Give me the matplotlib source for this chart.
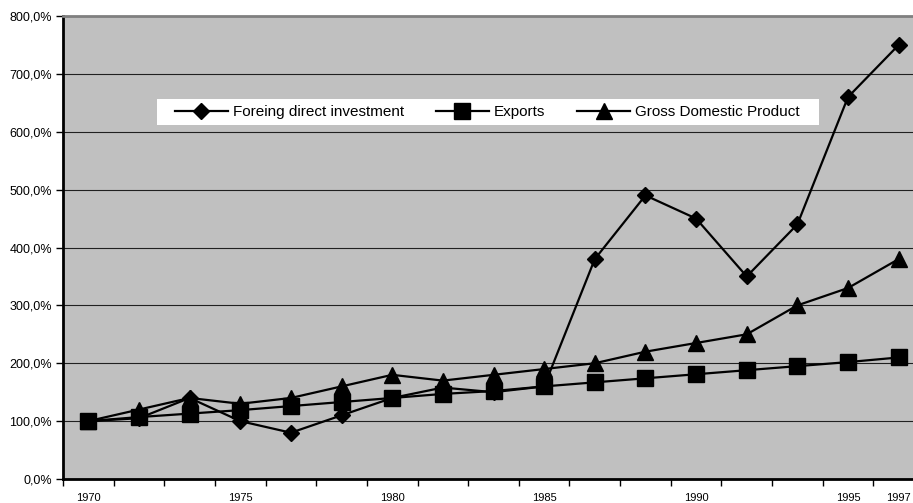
import matplotlib
matplotlib.use("Agg")
import matplotlib.pyplot as plt
from matplotlib.patches import Rectangle

# index values, 1970 = 100 %
years = ["1970", "", "", "1975", "", "", "1980", "", "", "1985", "", "",
         "1990", "", "", "1995", "1997"]
fdi = [100, 105, 140, 100, 80, 110, 140, 158, 150, 160, 380, 490, 450,
       350, 440, 660, 750]
exports = [100, 107, 113, 119, 126, 133, 140, 147, 152, 160, 167, 174, 181,
           188, 195, 202, 210]
gdp = [100, 120, 140, 130, 140, 160, 180, 170, 180, 190, 200, 220, 235,
       250, 300, 330, 380]
yticks = [0, 100, 200, 300, 400, 500, 600, 700, 800]

plt.rcParams["font.family"] = ["Liberation Sans", "DejaVu Sans"]

fig = plt.figure(figsize=(9.13, 5.03), dpi=100)
# plot area runs a little past the right edge of the figure
ax = fig.add_axes([63 / 913, 24 / 503, 861 / 913, 463 / 503])
ax.set_facecolor("#c0c0c0")

x = range(len(years))
line_kw = dict(color="black", lw=1.6, clip_on=False)
ax.plot(x, fdi, marker="D", ms=8, label="Foreing direct investment", **line_kw)
ax.plot(x, exports, marker="s", ms=11, label="Exports", **line_kw)
ax.plot(x, gdp, marker="^", ms=11, label="Gross Domestic Product", **line_kw)

ax.set_xlim(-0.5, len(years) - 0.5)
ax.set_ylim(0, 800)
ax.set_yticks(yticks)
ax.set_yticklabels([f"{v},0%" for v in yticks], fontsize=9)
ax.yaxis.grid(True, color="#202020", lw=0.8)
ax.set_axisbelow(True)

# category boundaries carry the ticks, labels sit at the centres
ax.set_xticks([i - 0.5 for i in range(len(years) + 1)])
ax.set_xticklabels([])
ax.set_xticks(list(x), minor=True)
ax.set_xticklabels(years, minor=True, fontsize=8)
ax.tick_params(axis="x", which="minor", length=0, pad=10)
ax.tick_params(axis="x", which="major", length=5, width=1)
ax.tick_params(axis="y", length=5, width=1, pad=3)

ax.spines["left"].set_linewidth(2)
ax.spines["bottom"].set_linewidth(2)
ax.spines["top"].set_color("#808080")
ax.spines["top"].set_linewidth(2)
ax.spines["right"].set_visible(False)

# white legend strip, drawn as its own box so the padding can differ per side
ax.add_patch(Rectangle((94 / 861, 354 / 463), 662 / 861, 26 / 463,
                       transform=ax.transAxes, facecolor="white",
                       edgecolor="none", zorder=4.9, clip_on=False))
leg = ax.legend(loc="center left", bbox_to_anchor=(112 / 861, 367 / 463),
                ncol=3, frameon=False, fontsize=11, borderaxespad=0,
                borderpad=0, handlelength=3.45, columnspacing=2.1,
                handletextpad=0.33)
leg.set_zorder(5)

fig.savefig("out.png", dpi=100)
